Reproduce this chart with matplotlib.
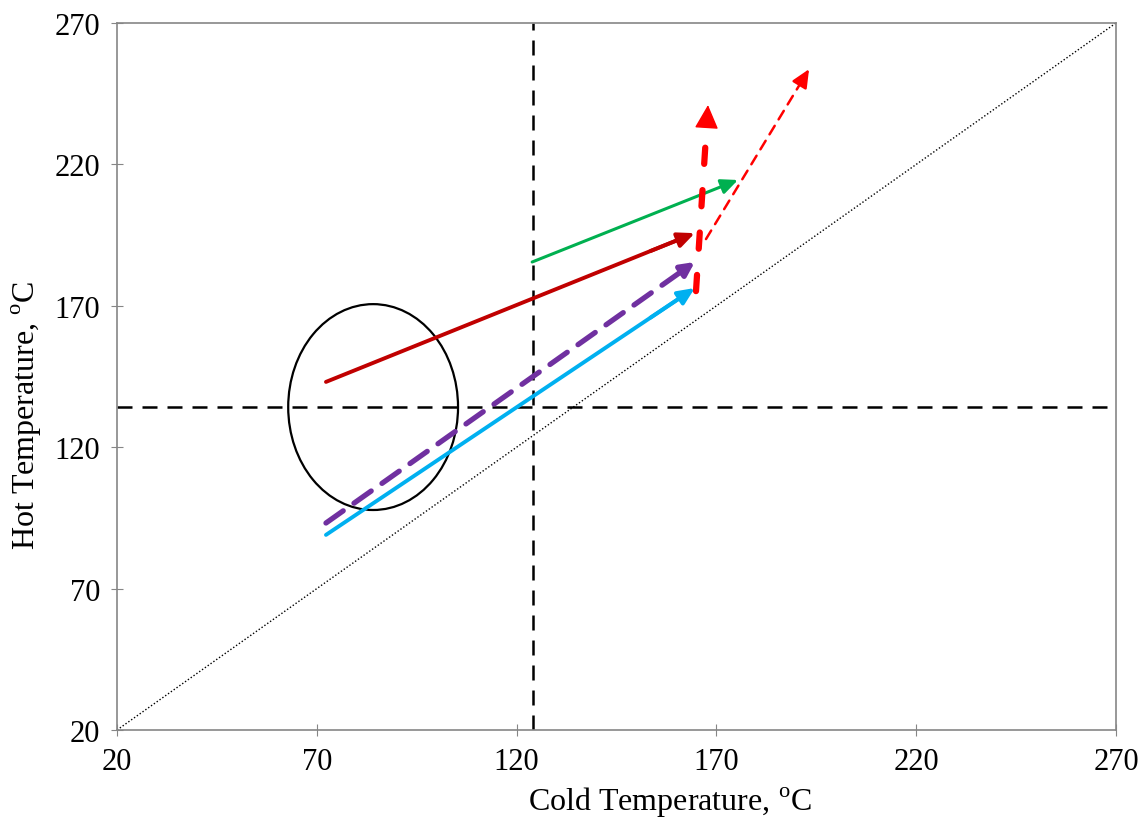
import numpy as np
import matplotlib.pyplot as plt
from matplotlib.patches import Ellipse

plt.rcParams['font.family'] = ['Liberation Serif', 'DejaVu Serif']
plt.rcParams['mathtext.fontset'] = 'custom'
plt.rcParams['mathtext.rm'] = 'Liberation Serif'

ticks = [20, 70, 120, 170, 220, 270]

# arrows: (x0, y0) -> (x1, y1)
darkred_arrow = [72.3, 143.1, 164.6, 195.7]
cyan_arrow = [72.3, 89.0, 164.6, 176.3]
purple_arrow = [72.3, 93.2, 164.6, 185.5]
green_arrow = [123.9, 185.5, 175.4, 214.5]
red_vert_arrow = [164.9, 175.2, 167.9, 241.0]
red_thin_arrow = [167.4, 193.6, 193.2, 253.7]

cold_line = 124
hot_line = 134.2
ellipse_center = (84.1, 134.2)
ellipse_size = (42.5, 72.8)

fig = plt.figure(figsize=(11.48, 8.29), dpi=100)
ax = fig.add_axes([0.1019, 0.1182, 0.8702, 0.8528])


def arrow(a, color, lw, ls='-', head=1.0, hl=1.0, hw=0.45, stop=0.97, hlw=None):
    x0, y0, x1, y1 = a
    # shaft
    ax.plot([x0, x0 + (x1 - x0) * stop], [y0, y0 + (y1 - y0) * stop],
            color=color, lw=lw, ls=ls, solid_capstyle='round', dash_capstyle='round')
    # head
    f = 0.12 * head
    ax.annotate('', xy=(x1, y1), xytext=(x1 - (x1 - x0) * f, y1 - (y1 - y0) * f),
                arrowprops=dict(arrowstyle='-|>,head_length=%g,head_width=%g' % (hl, hw),
                                color=color, lw=lw if hlw is None else hlw,
                                shrinkA=0, shrinkB=0))


ax.plot([20, 270], [20, 270], color='black', lw=1.0, ls=(0, (1, 1.5)))
ax.axvline(cold_line, color='black', lw=1.8, ls=(0, (6, 4)))
ax.axhline(hot_line, color='black', lw=1.8, ls=(0, (6, 4)))
ax.add_patch(Ellipse(ellipse_center, ellipse_size[0], ellipse_size[1],
                     fill=False, edgecolor='black', lw=1.6))

arrow(darkred_arrow, '#C00000', 2.8, hl=1.0, hw=0.45)
arrow(cyan_arrow, '#00B0F0', 2.8, hl=1.0, hw=0.45)
arrow(purple_arrow, '#7030A0', 3.8, ls=(0, (4, 2.5)), head=0.2, hl=0.8, hw=0.4)
arrow(green_arrow, '#00B050', 2.2, head=0.3, hl=1.0, hw=0.45)
arrow(red_vert_arrow, '#FF0000', 4.5, ls=(0, (2.6, 4.2)), head=0.9, hl=1.5, hw=0.75,
      stop=0.82, hlw=1.0)
arrow(red_thin_arrow, '#FF0000', 1.8, ls=(0, (4, 3)), head=0.25, hl=1.1, hw=0.5)

ax.set_xlim(20, 270)
ax.set_ylim(20, 270)
ax.set_xticks(ticks)
ax.set_yticks(ticks)
ax.tick_params(direction='inout', length=8, color='#868686', labelsize=22, pad=8)
for s in ax.spines.values():
    s.set_color('#868686')
    s.set_linewidth(1.2)
ax.set_xlabel('Cold Temperature, $^{\\mathrm{o}}$C', fontsize=23)
ax.set_ylabel('Hot Temperature, $^{\\mathrm{o}}$C', fontsize=23)
ax.xaxis.set_label_coords(0.553, -0.078)
ax.yaxis.set_label_coords(-0.073, 0.446)

fig.savefig('out.png', dpi=100)
